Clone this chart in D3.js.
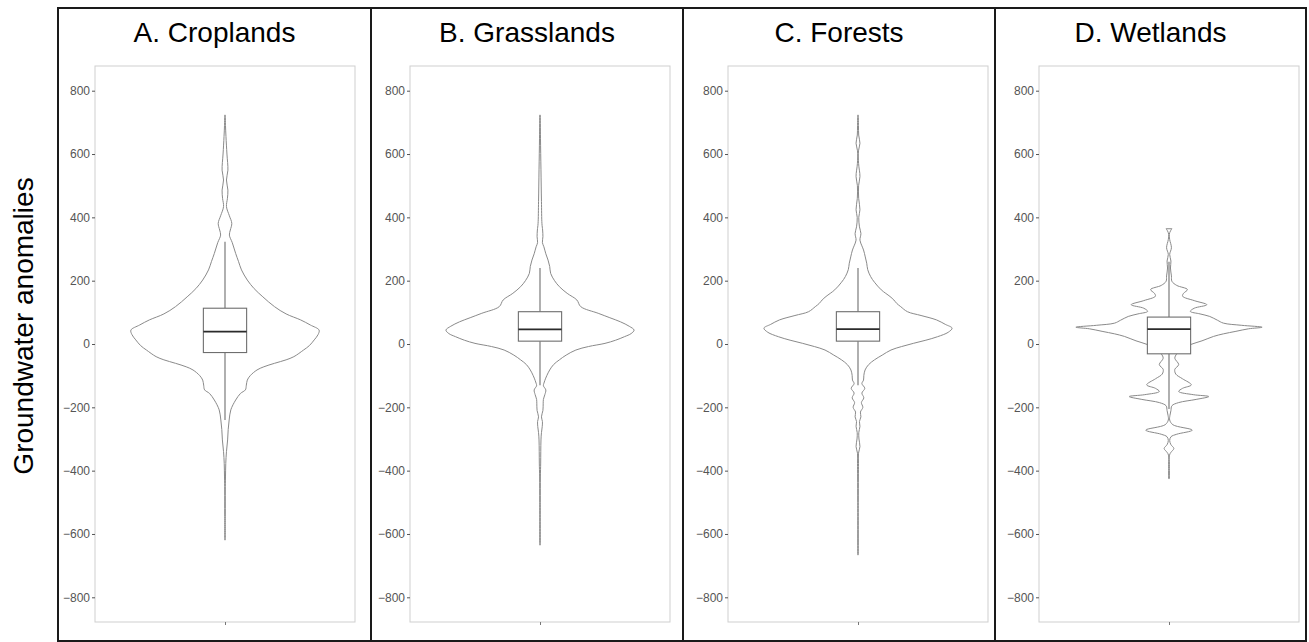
<!DOCTYPE html>
<html><head><meta charset="utf-8">
<script src="https://cdn.jsdelivr.net/npm/d3@7"></script>
<style>body{margin:0;background:#fff}</style>
</head><body>
<svg id="chart" width="1309" height="642"></svg>
<script>
// ---------- data ----------
const panelTitles = ["A. Croplands", "B. Grasslands", "C. Forests", "D. Wetlands"];
const yAxisTitle = "Groundwater anomalies";
const yTicks = [-800, -600, -400, -200, 0, 200, 400, 600, 800];

// violin outlines: anomaly value and relative density (max = 100)
const cropValues = [723,690,655,600,549,518,486,460,434,405,381,360,344,320,286,260,234,202,175,149,118,95,76,60,44,30,13,-5,-19,-40,-50,-61,-72,-82,-100,-114,-130,-145,-156,-177,-208,-240,-270,-303,-340,-377,-420,-461,-540,-619];
const cropDensity = [0,0.5,1,2,3,1.5,3,2.5,1.5,4.5,7,5.5,4.5,7.5,11,14,17,23,30,39,51,63,78,88,97,96,92,87,81,71,63,51,40,33,26,23,22,21,16,11,6,4.3,3.3,2.7,1.5,0.8,0.5,0.3,0.2,0];

const grassValues = [723,650,550,450,380,360,339,320,307,285,265,245,223,200,181,160,139,118,97,83,70,56,44,33,23,12,2,-8,-19,-35,-50,-65,-82,-100,-115,-124,-132,-145,-160,-175,-187,-210,-230,-245,-261,-280,-303,-340,-376,-420,-500,-635];
const grassDensity = [0,0.5,1,1.5,2,2.7,3,2.5,4,6,8.3,10,11,15,20,28,38,42,60,72,83,92,97,94,87,78,67,50,37,27,20,14,10,7,5,4,3.5,6,5,3.5,3.3,3,1.5,2.5,2.3,1.5,1,0.8,0.7,0.4,0.2,0];

const forestValues = [723,690,660,634,610,570,529,500,460,424,400,370,349,328,310,297,275,255,235,213,195,171,150,139,128,118,102,90,76,62,50,37,23,12,2,-8,-19,-35,-50,-65,-82,-100,-114,-125,-140,-155,-170,-185,-200,-215,-230,-245,-260,-280,-300,-324,-345,-377,-420,-500,-666];
const forestDensity = [0,0.5,0.7,2,0.5,0.6,2,0.6,0.7,2,0.8,1.5,3,2,4,5.7,7.5,9,10,13,17,24,33,37,40,44,51,65,81,90,97,93,82,70,57,45,34,25,17,11,7.3,6,5.7,4,7,4,6,3.5,5,2.5,3,1.5,2,0.8,1,2,0.5,0.5,0.4,0.3,0];

const wetValues = [364,357,346,330,304,283,262,240,215,198,185,172,160,151,137,124,113,103,95,87,75,66,59,53,48,40,32,24,10,-2,-15,-31,-45,-65,-80,-95,-110,-129,-140,-150,-160,-166,-175,-185,-195,-210,-225,-240,-255,-272,-285,-293,-305,-318,-330,-342,-351,-380,-425];
const wetDensity = [3,1.5,0.3,0.7,2.5,0.7,2,1.5,2.5,3,8,19,15,14,26,39,26,22,32,42,50,56,75,96,82,69,56,46,34,22,13,8,6,10,6,7,14,23,14,10,25,41,28,10,3,2,1,0.7,4,24,8,2,0.7,2,5,2,0.5,0.4,0.4];

// box plot statistics per panel
const boxQ1 = [-27, 9, 9, -31];
const boxMedian = [39, 46, 47, 47];
const boxQ3 = [113, 102, 102, 85];
const whiskerLow = [-240, -130, -130, -205];
const whiskerHigh = [323, 240, 240, 260];

const violinValues = [cropValues, grassValues, forestValues, wetValues];
const violinDensity = [cropDensity, grassDensity, forestDensity, wetDensity];

// ---------- layout ----------
const svg = d3.select("#chart");
svg.append("rect").attr("width", 1309).attr("height", 642).attr("fill", "#fff");

const outerX = [58, 371, 683, 995, 1306];
const innerLeft = [95, 410, 728, 1039];
const innerW = 260, innerTop = 66, innerBottom = 622;
const font = "'Liberation Sans', Arial, Helvetica, sans-serif";

const y = d3.scaleLinear().domain([-878, 878]).range([innerBottom, innerTop]);
const w = d3.scaleLinear().domain([0, 100]).range([0, 97]);

// outer frame
svg.append("rect").attr("x", outerX[0]).attr("y", 8)
  .attr("width", outerX[4] - outerX[0]).attr("height", 633)
  .attr("fill", "none").attr("stroke", "#1a1a1a").attr("stroke-width", 2);
[1, 2, 3].forEach(i => {
  svg.append("line").attr("x1", outerX[i]).attr("x2", outerX[i])
    .attr("y1", 8).attr("y2", 641).attr("stroke", "#1a1a1a").attr("stroke-width", 2);
});

// y title
svg.append("text").attr("transform", "translate(33,326) rotate(-90)")
  .attr("text-anchor", "middle").attr("font-family", font).attr("font-size", 28)
  .attr("fill", "#000").text(yAxisTitle);

panelTitles.forEach((title, i) => {
  const g = svg.append("g");
  const left = innerLeft[i];
  const x = d3.scalePoint().domain([title]).range([left, left + innerW]).padding(0.5);
  const cx = x(title);

  // title
  g.append("text").attr("x", (outerX[i] + outerX[i + 1]) / 2).attr("y", 42)
    .attr("text-anchor", "middle").attr("font-family", font).attr("font-size", 28)
    .attr("fill", "#000").text(title);

  // inner panel border
  g.append("rect").attr("x", left).attr("y", innerTop)
    .attr("width", innerW).attr("height", innerBottom - innerTop)
    .attr("fill", "#fff").attr("stroke", "#cfcfcf").attr("stroke-width", 1);

  // y axis
  const ya = g.append("g").attr("transform", `translate(${left},0)`)
    .call(d3.axisLeft(y).tickValues(yTicks).tickSize(3).tickPadding(2));
  ya.select(".domain").remove();
  ya.selectAll("line").attr("stroke", "#555");
  ya.selectAll("text").attr("font-family", font).attr("font-size", 12).attr("fill", "#555");

  // x axis (single category, no label)
  const xa = g.append("g").attr("transform", `translate(0,${innerBottom})`)
    .call(d3.axisBottom(x).tickSize(3).tickFormat(""));
  xa.select(".domain").remove();
  xa.selectAll("line").attr("stroke", "#777");

  // violin
  const pts = violinValues[i].map((v, k) => ({ v, d: Math.max(violinDensity[i][k], 0.3) }));
  const area = d3.area()
    .y(d => y(d.v))
    .x0(d => cx - w(d.d))
    .x1(d => cx + w(d.d))
    .curve(d3.curveCatmullRom.alpha(0.5));
  g.append("path").datum(pts).attr("d", area)
    .attr("fill", "#fff").attr("stroke", "#8a8a8a").attr("stroke-width", 1);

  // whiskers
  g.append("line").attr("x1", cx).attr("x2", cx)
    .attr("y1", y(boxQ3[i])).attr("y2", y(whiskerHigh[i]))
    .attr("stroke", "#6e6e6e").attr("stroke-width", 1.1);
  g.append("line").attr("x1", cx).attr("x2", cx)
    .attr("y1", y(boxQ1[i])).attr("y2", y(whiskerLow[i]))
    .attr("stroke", "#6e6e6e").attr("stroke-width", 1.1);

  // box
  const bw = w(22.3);
  g.append("rect").attr("x", cx - bw).attr("width", 2 * bw)
    .attr("y", y(boxQ3[i])).attr("height", y(boxQ1[i]) - y(boxQ3[i]))
    .attr("fill", "#fff").attr("stroke", "#6e6e6e").attr("stroke-width", 1.1);
  g.append("line").attr("x1", cx - bw).attr("x2", cx + bw)
    .attr("y1", y(boxMedian[i])).attr("y2", y(boxMedian[i]))
    .attr("stroke", "#2b2b2b").attr("stroke-width", 1.8);
});
</script>
</body></html>
